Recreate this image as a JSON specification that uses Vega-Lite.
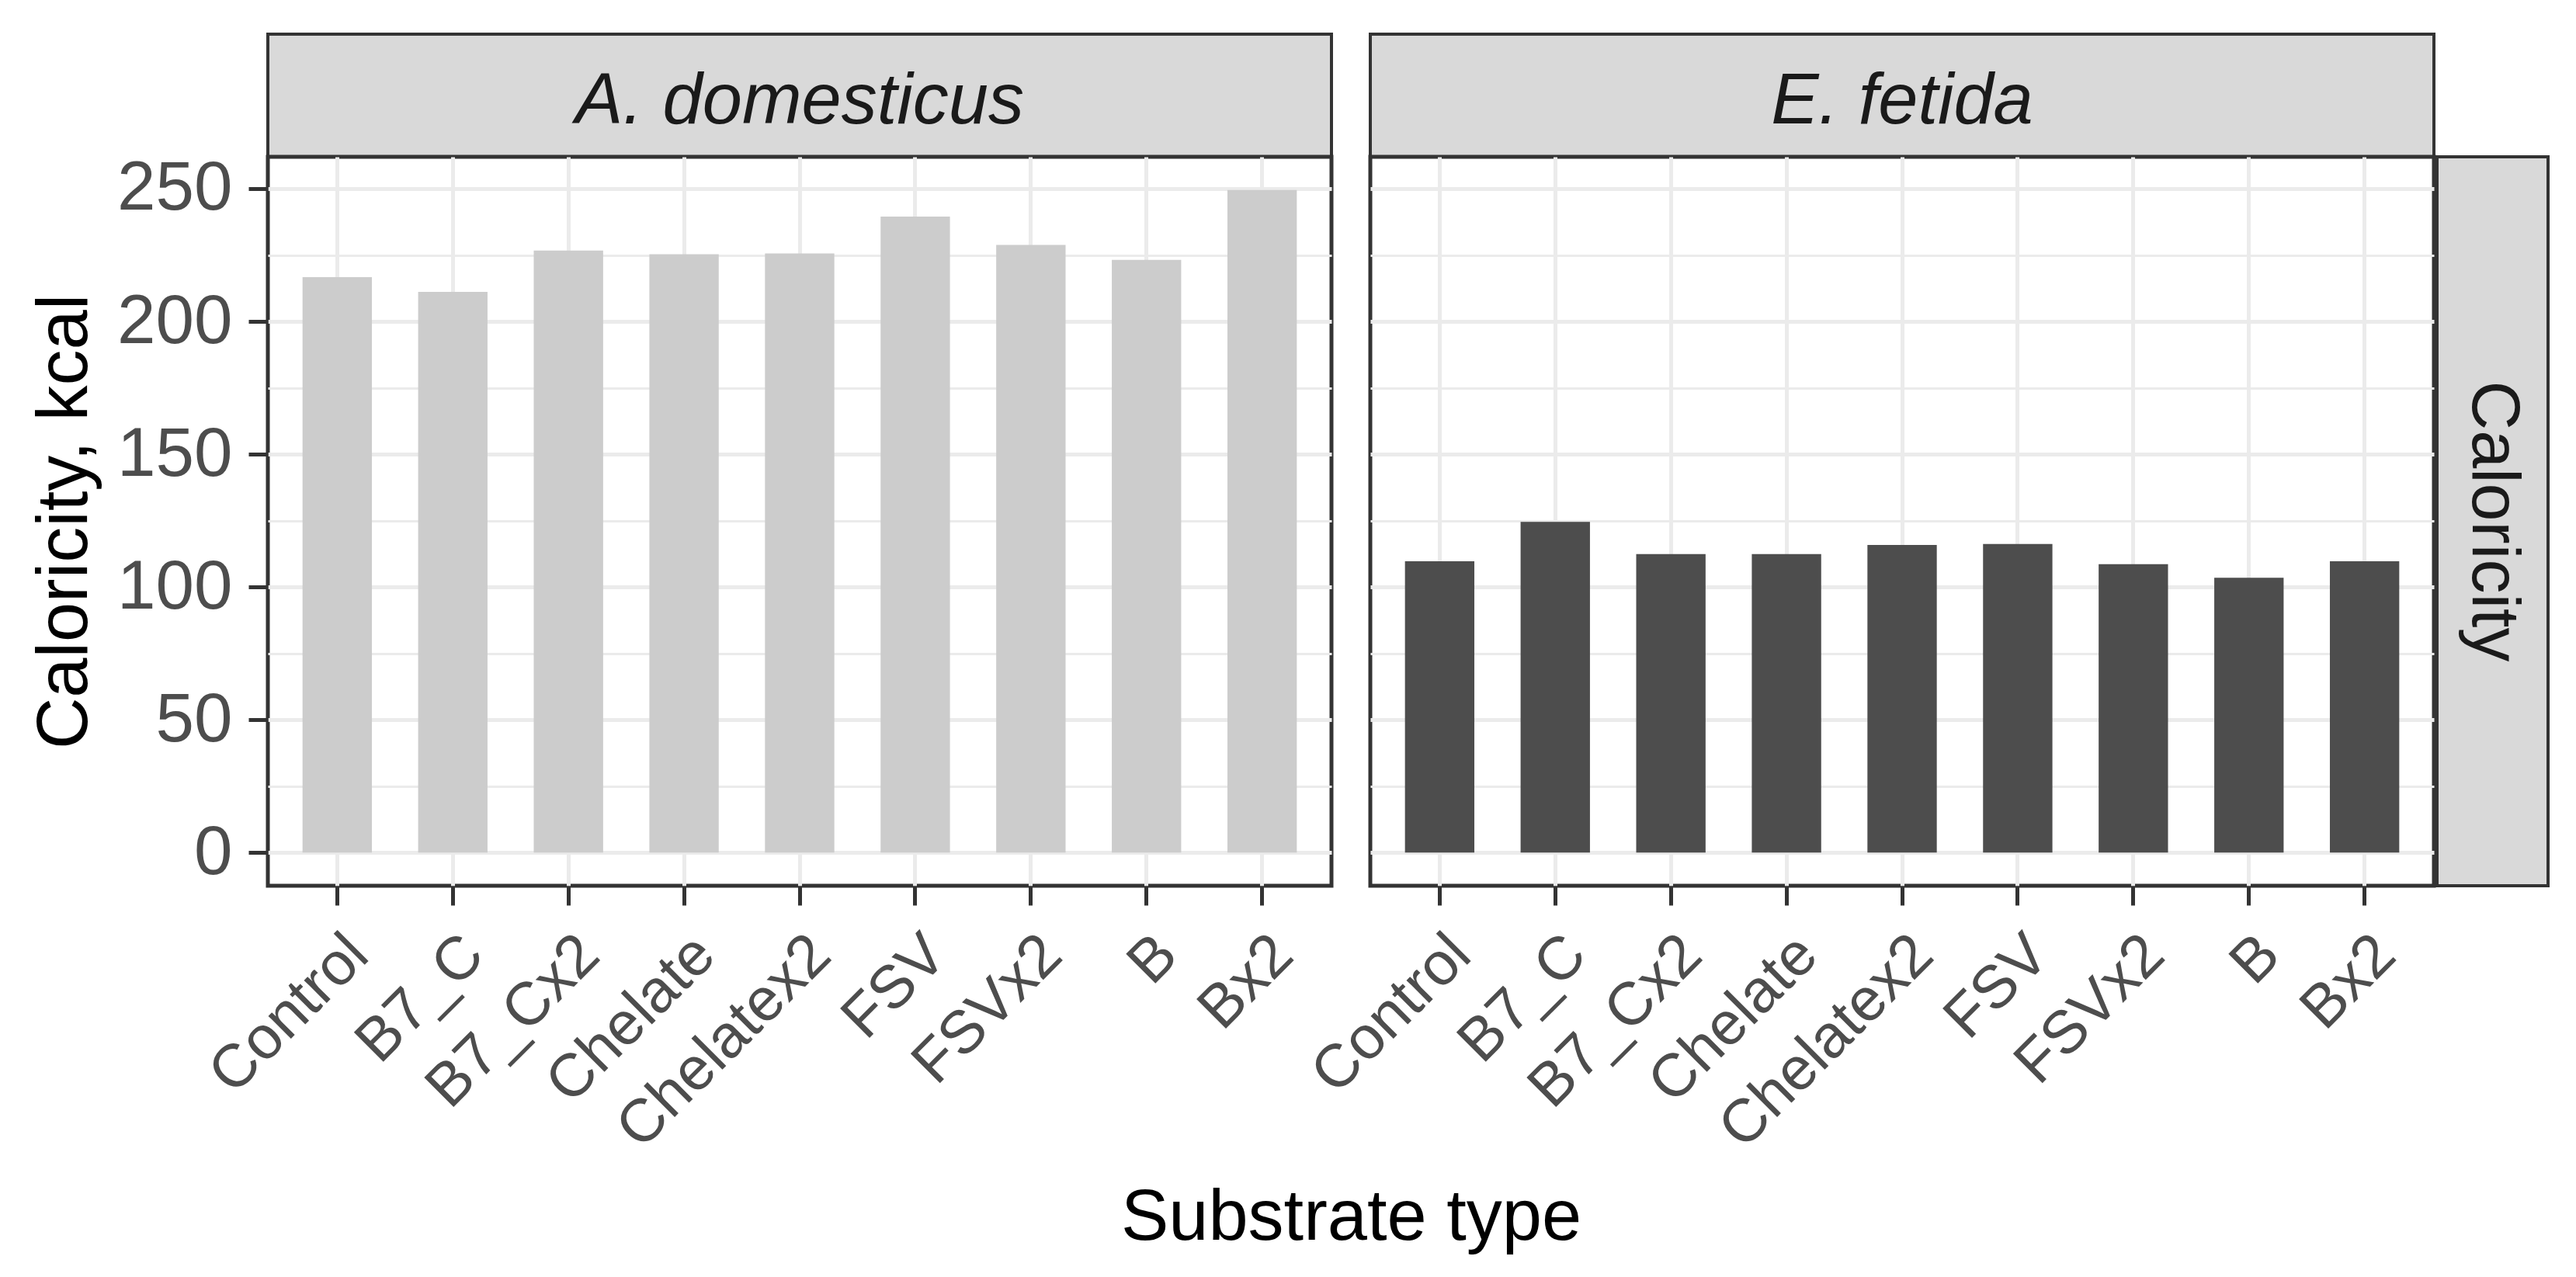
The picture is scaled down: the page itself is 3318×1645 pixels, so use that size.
{
  "$schema": "https://vega.github.io/schema/vega-lite/v6.json",
  "background": "white",
  "padding": {"left": 35, "top": 42, "right": 41, "bottom": 10},
  "datasets": {
    "cal": [
      {"species": "A. domesticus", "substrate": "Control", "calories": 216.7},
      {"species": "A. domesticus", "substrate": "B7_C", "calories": 211.1},
      {"species": "A. domesticus", "substrate": "B7_Cx2", "calories": 226.7},
      {"species": "A. domesticus", "substrate": "Chelate", "calories": 225.3},
      {"species": "A. domesticus", "substrate": "Chelatex2", "calories": 225.6},
      {"species": "A. domesticus", "substrate": "FSV", "calories": 239.5},
      {"species": "A. domesticus", "substrate": "FSVx2", "calories": 228.8},
      {"species": "A. domesticus", "substrate": "B", "calories": 223.2},
      {"species": "A. domesticus", "substrate": "Bx2", "calories": 249.5},
      {"species": "E. fetida", "substrate": "Control", "calories": 109.7},
      {"species": "E. fetida", "substrate": "B7_C", "calories": 124.5},
      {"species": "E. fetida", "substrate": "B7_Cx2", "calories": 112.4},
      {"species": "E. fetida", "substrate": "Chelate", "calories": 112.4},
      {"species": "E. fetida", "substrate": "Chelatex2", "calories": 115.8},
      {"species": "E. fetida", "substrate": "FSV", "calories": 116.2},
      {"species": "E. fetida", "substrate": "FSVx2", "calories": 108.6},
      {"species": "E. fetida", "substrate": "B", "calories": 103.5},
      {"species": "E. fetida", "substrate": "Bx2", "calories": 109.7}
    ],
    "strip": [{"species": "A. domesticus"}, {"species": "E. fetida"}],
    "var": [{"variable": "Caloricity"}],
    "blank": [{"s": ""}]
  },
  "config": {
    "font": "Liberation Sans",
    "view": {"stroke": null},
    "axis": {
      "gridColor": "#EBEBEB",
      "tickColor": "#333333",
      "labelColor": "#4D4D4D",
      "titleColor": "#000000",
      "domain": false,
      "titleFontWeight": "normal",
      "labelFont": "Liberation Sans",
      "titleFont": "Liberation Sans"
    }
  },
  "columns": 5,
  "spacing": 0,
  "bounds": "flush",
  "concat": [
    {
      "width": 1370,
      "height": 158,
      "data": {"name": "strip"},
      "transform": [{"filter": "datum.species === 'A. domesticus'"}],
      "view": {"fill": "#D9D9D9", "stroke": "#333333", "strokeWidth": 4},
      "mark": {"type": "text", "fontSize": 92, "fontStyle": "italic", "color": "#1A1A1A", "align": "center", "baseline": "middle", "dy": 8},
      "encoding": {"text": {"field": "species", "type": "nominal"}}
    },
    {
      "width": 50, "height": 158,
      "data": {"name": "blank"},
      "mark": {"type": "text"},
      "encoding": {"text": {"field": "s", "type": "nominal"}}
    },
    {
      "width": 1370,
      "height": 158,
      "data": {"name": "strip"},
      "transform": [{"filter": "datum.species === 'E. fetida'"}],
      "view": {"fill": "#D9D9D9", "stroke": "#333333", "strokeWidth": 4},
      "mark": {"type": "text", "fontSize": 92, "fontStyle": "italic", "color": "#1A1A1A", "align": "center", "baseline": "middle", "dy": 8},
      "encoding": {"text": {"field": "species", "type": "nominal"}}
    },
    {
      "width": 4, "height": 158,
      "data": {"name": "blank"},
      "mark": {"type": "text"},
      "encoding": {"text": {"field": "s", "type": "nominal"}}
    },
    {
      "width": 143, "height": 158,
      "data": {"name": "blank"},
      "mark": {"type": "text"},
      "encoding": {"text": {"field": "s", "type": "nominal"}}
    },
    {
      "width": 1370,
      "height": 939,
      "data": {"name": "cal"},
      "transform": [{"filter": "datum.species === 'A. domesticus'"}],
      "view": {"fill": "white", "stroke": "#333333", "strokeWidth": 5},
      "layer": [
        {
          "mark": "bar",
          "encoding": {
            "x": {
              "field": "substrate", "type": "nominal",
              "sort": ["Control", "B7_C", "B7_Cx2", "Chelate", "Chelatex2", "FSV", "FSVx2", "B", "Bx2"],
              "scale": {"paddingInner": 0.4, "paddingOuter": 0.3},
              "axis": {
                "title": "Substrate type", "titleFontSize": 92, "titleX": 1395, "titleY": 382,
                "titleBaseline": "top", "titleAlign": "center",
                "labelAngle": -45, "labelAlign": "right", "labelBaseline": "top", "labelFontSize": 78,
                "labelPadding": 24, "labelOverlap": false, "labelLimit": 0, "tickSize": 25, "tickWidth": 5,
                "grid": true, "gridWidth": 5, "bandPosition": 0.5
              }
            },
            "y": {
              "field": "calories", "type": "quantitative",
              "scale": {"domain": [-12.475, 261.975], "nice": false, "zero": false},
              "axis": {
                "values": [0, 50, 100, 150, 200, 250], "title": "Caloricity, kcal", "titleFontSize": 92,
                "titlePadding": 20, "labelFontSize": 89, "labelPadding": 21, "tickSize": 25, "tickWidth": 5,
                "grid": true, "gridWidth": 5
              }
            },
            "color": {
              "field": "species", "type": "nominal",
              "scale": {"domain": ["A. domesticus", "E. fetida"], "range": ["#CCCCCC", "#4D4D4D"]},
              "legend": null
            }
          }
        },
        {
          "mark": {"type": "rule", "strokeOpacity": 0},
          "encoding": {
            "y": {
              "field": "calories", "type": "quantitative",
              "scale": {"domain": [-12.475, 261.975], "nice": false, "zero": false},
              "axis": {"values": [25, 75, 125, 175, 225], "grid": true, "gridWidth": 3, "labels": false, "ticks": false, "domain": false, "title": null}
            }
          }
        }
      ],
      "resolve": {"axis": {"y": "independent"}}
    },
    {
      "width": 50, "height": 939,
      "data": {"name": "blank"},
      "mark": {"type": "text"},
      "encoding": {"text": {"field": "s", "type": "nominal"}}
    },
    {
      "width": 1370,
      "height": 939,
      "data": {"name": "cal"},
      "transform": [{"filter": "datum.species === 'E. fetida'"}],
      "view": {"fill": "white", "stroke": "#333333", "strokeWidth": 5},
      "layer": [
        {
          "mark": "bar",
          "encoding": {
            "x": {
              "field": "substrate", "type": "nominal",
              "sort": ["Control", "B7_C", "B7_Cx2", "Chelate", "Chelatex2", "FSV", "FSVx2", "B", "Bx2"],
              "scale": {"paddingInner": 0.4, "paddingOuter": 0.3},
              "axis": {
                "title": null,
                "labelAngle": -45, "labelAlign": "right", "labelBaseline": "top", "labelFontSize": 78,
                "labelPadding": 24, "labelOverlap": false, "labelLimit": 0, "tickSize": 25, "tickWidth": 5,
                "grid": true, "gridWidth": 5, "bandPosition": 0.5
              }
            },
            "y": {
              "field": "calories", "type": "quantitative",
              "scale": {"domain": [-12.475, 261.975], "nice": false, "zero": false},
              "axis": {
                "values": [0, 50, 100, 150, 200, 250], "title": null, "labels": false, "ticks": false,
                "grid": true, "gridWidth": 5
              }
            },
            "color": {
              "field": "species", "type": "nominal",
              "scale": {"domain": ["A. domesticus", "E. fetida"], "range": ["#CCCCCC", "#4D4D4D"]},
              "legend": null
            }
          }
        },
        {
          "mark": {"type": "rule", "strokeOpacity": 0},
          "encoding": {
            "y": {
              "field": "calories", "type": "quantitative",
              "scale": {"domain": [-12.475, 261.975], "nice": false, "zero": false},
              "axis": {"values": [25, 75, 125, 175, 225], "grid": true, "gridWidth": 3, "labels": false, "ticks": false, "domain": false, "title": null}
            }
          }
        }
      ],
      "resolve": {"axis": {"y": "independent"}}
    },
    {
      "width": 4, "height": 939,
      "data": {"name": "blank"},
      "mark": {"type": "text"},
      "encoding": {"text": {"field": "s", "type": "nominal"}}
    },
    {
      "width": 143,
      "height": 939,
      "data": {"name": "var"},
      "view": {"fill": "#D9D9D9", "stroke": "#333333", "strokeWidth": 4},
      "mark": {"type": "text", "fontSize": 88, "angle": 90, "color": "#1A1A1A", "align": "center", "baseline": "middle"},
      "encoding": {"text": {"field": "variable", "type": "nominal"}}
    }
  ]
}
